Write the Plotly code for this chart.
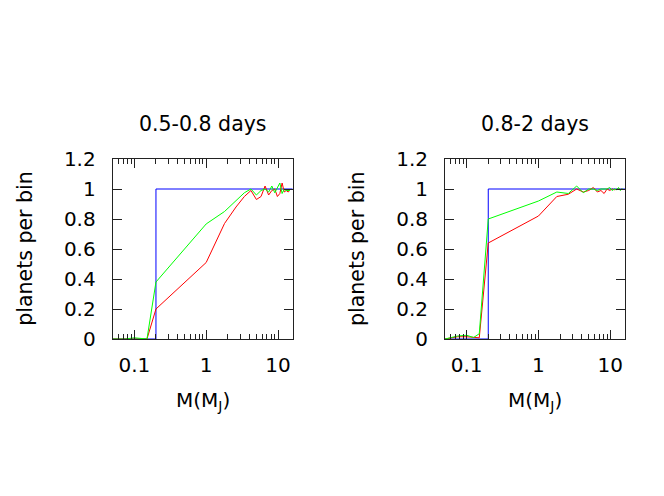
import numpy as np
import plotly.graph_objects as go

# ---- data ----
mass = [0.05, 0.075, 0.1, 0.125, 0.15, 0.2, 1.0, 1.8, 2.6, 3.4, 4.2, 5.0, 5.8, 6.6,
        7.4, 8.2, 9.0, 9.8, 10.6, 11.4, 12.2, 13.0, 13.8, 14.6]

red_a = [0, 0, 0, 0, 0, 0.20, 0.51, 0.77, 0.88, 0.95, 0.99, 0.93, 0.95, 1.02,
         0.96, 0.99, 1.00, 0.95, 0.97, 1.04, 0.98, 0.99, 0.98, 0.99]
green_a = [0, 0, 0.008, 0.005, 0, 0.38, 0.767, 0.85, 0.92, 0.975, 1.00, 0.96, 0.99, 1.00,
           0.98, 1.02, 0.975, 1.01, 1.04, 0.97, 1.00, 0.99, 0.99, 0.99]

red_b = [0, 0.015, 0.015, 0.012, 0.008, 0.64, 0.82, 0.95, 0.965, 1.00, 0.98, 0.99, 1.01, 0.98,
         0.99, 0.97, 1.00, 0.99, 1.00, 0.995, 1.00, 1.00, 0.995, 1.00]
green_b = [0, 0.02, 0.025, 0.01, 0.035, 0.80, 0.92, 0.98, 0.97, 1.02, 0.975, 1.00, 1.00, 0.99,
           1.00, 1.00, 1.00, 1.01, 0.99, 1.00, 0.995, 1.01, 0.99, 1.005]

# ideal step (blue)
step_x = [0.05, 0.2, 0.2, 16]
step_y = [0, 0, 1, 1]

titles = ["0.5-0.8 days", "0.8-2 days"]
x_range = [0.05, 16]
y_ticks = [0, 0.2, 0.4, 0.6, 0.8, 1.0, 1.2]
y_labels = ["0", "0.2", "0.4", "0.6", "0.8", "1", "1.2"]
x_ticks = [0.1, 1, 10]
x_labels = ["0.1", "1", "10"]

W, H = 664, 496
FONT = "DejaVu Sans"

panels = [
    dict(red=red_a, green=green_a, x0=112.7, x1=292.7),
    dict(red=red_b, green=green_b, x0=445.0, x1=625.0),
]
py_top, py_bot = 159.0, 339.0

minor_vals = [m * 10.0 ** e for e in (-2, -1, 0, 1) for m in range(2, 10)]

fig = go.Figure()
for i, p in enumerate(panels):
    xa = "x" if i == 0 else "x2"
    ya = "y" if i == 0 else "y2"
    fig.add_trace(go.Scatter(x=step_x, y=step_y, mode="lines",
                             line=dict(color="#0000ff", width=1),
                             xaxis=xa, yaxis=ya, showlegend=False, hoverinfo="skip"))
    fig.add_trace(go.Scatter(x=mass, y=p["red"], mode="lines",
                             line=dict(color="#ff0000", width=1),
                             xaxis=xa, yaxis=ya, showlegend=False))
    fig.add_trace(go.Scatter(x=mass, y=p["green"], mode="lines",
                             line=dict(color="#00ff00", width=1),
                             xaxis=xa, yaxis=ya, showlegend=False))

    xkey = "xaxis" if i == 0 else "xaxis2"
    ykey = "yaxis" if i == 0 else "yaxis2"
    dom_x = [p["x0"] / W, p["x1"] / W]
    dom_y = [(H - py_bot) / H, (H - py_top) / H]
    fig.layout[xkey] = dict(
        type="log", domain=dom_x, anchor=ya,
        range=[np.log10(x_range[0]), np.log10(x_range[1])],
        tickmode="array", tickvals=x_ticks, ticktext=x_labels,
        ticks="inside", ticklen=9, tickwidth=1, tickcolor="#222",
        showline=True, linecolor="#222", linewidth=1, mirror="allticks",
        showgrid=False, zeroline=False, automargin=False,
        minor=dict(tickvals=minor_vals, ticks="inside", ticklen=5,
                   tickcolor="#222", showgrid=False),
        tickfont=dict(family=FONT, size=20, color="black"),
        ticklabelstandoff=8,
    )
    fig.layout[ykey] = dict(
        domain=dom_y, anchor=xa, range=[0, 1.2],
        tickmode="array", tickvals=y_ticks, ticktext=y_labels,
        ticks="inside", ticklen=9, tickwidth=1, tickcolor="#222",
        showline=True, linecolor="#222", linewidth=1, mirror="allticks",
        showgrid=False, zeroline=False, automargin=False,
        tickfont=dict(family=FONT, size=20, color="black"),
        ticklabelstandoff=12,
    )
    cx = (p["x0"] + p["x1"]) / 2 / W
    fig.add_annotation(text=titles[i], x=cx, y=(H - 124) / H, xref="paper", yref="paper",
                       showarrow=False, xanchor="center", yanchor="middle",
                       font=dict(family=FONT, size=20.5, color="black"))
    fig.add_annotation(text="M(M<sub>J</sub>)", x=cx, y=(H - 401) / H,
                       xref="paper", yref="paper", showarrow=False,
                       xanchor="center", yanchor="middle",
                       font=dict(family=FONT, size=20, color="black"))
    fig.add_annotation(text="planets per bin", x=(p["x0"] - 88) / W, y=(H - 249) / H,
                       xref="paper", yref="paper", showarrow=False, textangle=-90,
                       xanchor="center", yanchor="middle",
                       font=dict(family=FONT, size=20.5, color="black"))

fig.update_layout(width=W, height=H, margin=dict(l=0, r=0, t=0, b=0, autoexpand=False),
                  paper_bgcolor="white", plot_bgcolor="white",
                  font=dict(family=FONT, size=20, color="black"))

fig.write_html("out.html", config={"displayModeBar": False},
               post_script="document.body.style.margin='0';document.body.style.overflow='hidden';")
